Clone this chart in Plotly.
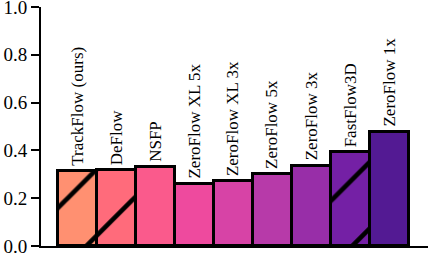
import plotly.graph_objects as go

methods = ["TrackFlow (ours)", "DeFlow", "NSFP", "ZeroFlow XL 5x", "ZeroFlow XL 3x",
           "ZeroFlow 5x", "ZeroFlow 3x", "FastFlow3D", "ZeroFlow 1x"]
values = [0.314, 0.318, 0.330, 0.260, 0.270, 0.300, 0.336, 0.392, 0.477]
colors = ["#FF9071", "#FF6B7B", "#FA5A8C", "#EE4A9E", "#D743A6",
          "#B73AA9", "#982EA8", "#7420A5", "#531A93"]
hatched = [True, True, False, False, False, False, False, True, False]
y_ticks = [0.0, 0.2, 0.4, 0.6, 0.8, 1.0]

xs = list(range(len(methods)))
font = "Liberation Serif"

W, H = 428, 256
L, R, T, B = 41, 0, 7, 10          # visible axes box (pixels)
XR = [-0.93, 9.0]
YR = [0.0, 1.0]

# full-figure subplot for the bars (so that hatch pattern is anchored at the page origin)
pxu = (W - L - R) / (XR[1] - XR[0])
pyu = (H - T - B) / (YR[1] - YR[0])
XR2 = [XR[0] - L / pxu, XR[1] + R / pxu]
YR2 = [YR[0] - B / pyu, YR[1] + T / pyu]

fig = go.Figure()
# empty trace so the visible axes subplot is drawn
fig.add_trace(go.Scatter(x=[None], y=[None], xaxis="x", yaxis="y", mode="markers",
                         showlegend=False, hoverinfo="skip"))
for x, v, c, h in zip(xs, values, colors, hatched):
    fig.add_trace(go.Bar(
        x=[x], y=[v], width=1.0, xaxis="x2", yaxis="y2",
        marker=dict(
            color=c,
            line=dict(color="black", width=3),
            pattern=dict(shape="/" if h else "", fgcolor="black", fgopacity=1,
                         size=47, solidity=0.1, fillmode="overlay"),
        ),
        showlegend=False,
    ))

for x, v, m in zip(xs, values, methods):
    fig.add_annotation(x=x, y=v, xref="x2", yref="y2", text=m, textangle=-90, showarrow=False,
                       xanchor="center", yanchor="bottom", yshift=3,
                       font=dict(family=font, size=17, color="black"))

fig.update_layout(
    width=W, height=H,
    margin=dict(l=0, r=0, t=0, b=0, pad=0),
    paper_bgcolor="white", plot_bgcolor="rgba(0,0,0,0)",
    barmode="overlay", bargap=0,
    xaxis=dict(domain=[L / W, 1 - R / W], range=XR, showticklabels=False, ticks="",
               showline=True, linecolor="black", linewidth=2, showgrid=False, zeroline=False,
               automargin=False, anchor="y"),
    yaxis=dict(domain=[B / H, 1 - T / H], range=YR, tickvals=y_ticks,
               ticktext=[f"{t:.1f}" for t in y_ticks],
               ticks="outside", ticklen=8, tickwidth=2, tickcolor="black",
               ticklabeloverflow="allow", automargin=False, anchor="x",
               showline=True, linecolor="black", linewidth=2, showgrid=False, zeroline=False,
               tickfont=dict(family=font, size=19, color="black")),
    xaxis2=dict(domain=[0, 1], range=XR2, visible=False, anchor="y2"),
    yaxis2=dict(domain=[0, 1], range=YR2, visible=False, anchor="x2"),
)

fig.write_html("out.html", config={"displayModeBar": False},
               post_script="document.body.style.margin='0';")
